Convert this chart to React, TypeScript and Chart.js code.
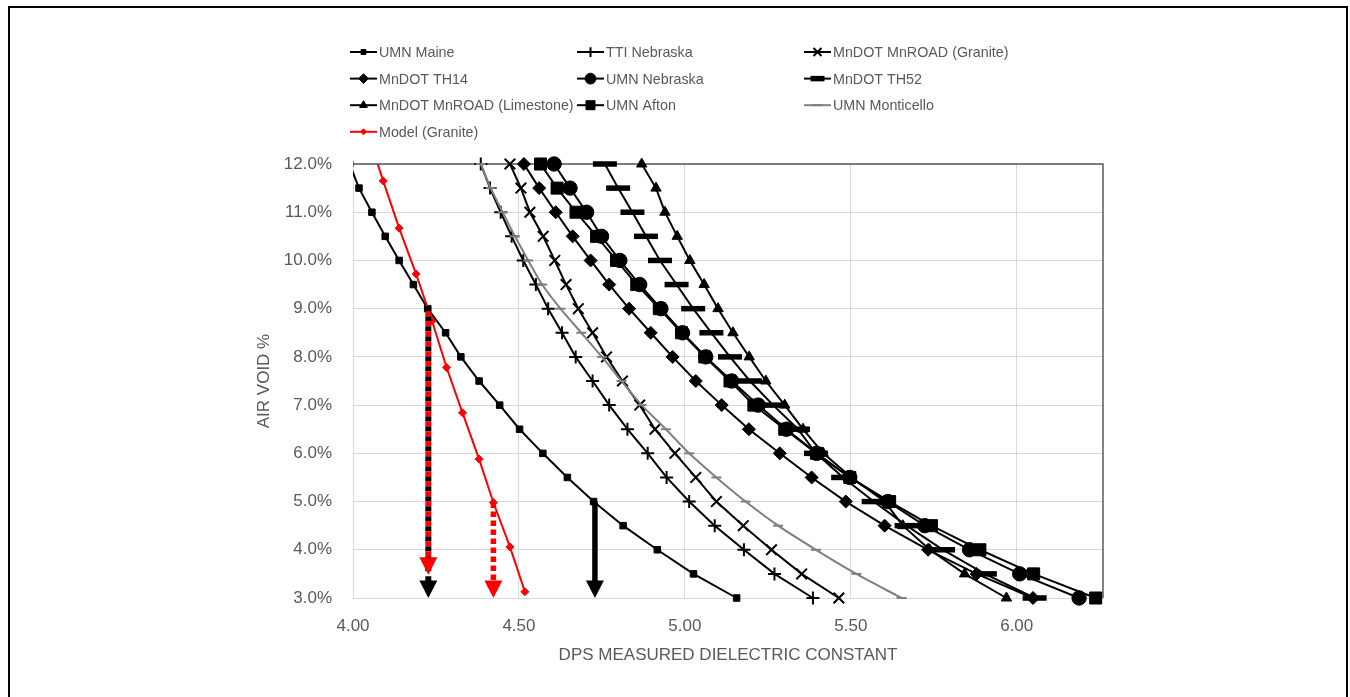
import React, { useEffect, useRef } from 'react';
import { Chart, registerables } from 'chart.js';
import { drawPoint } from 'chart.js/helpers';

Chart.register(...registerables);

// ---------- DATA ----------
const SERIES_NAMES = [
  'UMN Maine',
  'TTI Nebraska',
  'MnDOT MnROAD (Granite)',
  'MnDOT TH14',
  'UMN Nebraska',
  'MnDOT TH52',
  'MnDOT MnROAD (Limestone)',
  'UMN Afton',
  'UMN Monticello',
  'Model (Granite)',
];

// Air void levels (%) shared by the measured series
const AIR_VOID = [12.0, 11.5, 11.0, 10.5, 10.0, 9.5, 9.0, 8.5, 8.0, 7.5, 7.0, 6.5, 6.0, 5.5, 5.0, 4.5, 4.0, 3.5, 3.0];

// Dielectric constants per series
const UMN_MAINE = [3.99, 4.018, 4.057, 4.097, 4.139, 4.182, 4.225, 4.279, 4.325, 4.380, 4.442, 4.502, 4.572, 4.646, 4.725, 4.814, 4.917, 5.026, 5.156];
const TTI_NEBRASKA = [4.385, 4.413, 4.445, 4.478, 4.513, 4.551, 4.588, 4.630, 4.671, 4.722, 4.772, 4.827, 4.888, 4.945, 5.013, 5.090, 5.178, 5.270, 5.386];
const MNROAD_GRANITE = [4.473, 4.506, 4.533, 4.573, 4.608, 4.642, 4.679, 4.722, 4.764, 4.812, 4.864, 4.910, 4.970, 5.033, 5.095, 5.176, 5.261, 5.352, 5.464];
const MNDOT_TH14 = [4.515, 4.561, 4.611, 4.662, 4.716, 4.772, 4.832, 4.897, 4.963, 5.033, 5.111, 5.193, 5.286, 5.382, 5.485, 5.602, 5.733, 5.879, 6.049];
const UMN_NEBRASKA = [4.606, 4.654, 4.704, 4.749, 4.804, 4.864, 4.928, 4.993, 5.063, 5.141, 5.221, 5.306, 5.397, 5.497, 5.612, 5.723, 5.858, 6.009, 6.188];
const MNDOT_TH52 = [4.759, 4.799, 4.842, 4.883, 4.925, 4.975, 5.025, 5.080, 5.136, 5.196, 5.266, 5.341, 5.395, 5.477, 5.569, 5.668, 5.778, 5.904, 6.054];
const MNROAD_LIMESTONE = [4.870, 4.913, 4.940, 4.977, 5.015, 5.058, 5.100, 5.145, 5.194, 5.244, 5.301, 5.356, 5.417, 5.502, 5.602, 5.657, 5.738, 5.843, 5.969];
const UMN_AFTON = [4.565, 4.615, 4.672, 4.734, 4.794, 4.855, 4.923, 4.990, 5.060, 5.136, 5.208, 5.301, 5.397, 5.497, 5.617, 5.743, 5.889, 6.051, 6.238];
const UMN_MONTICELLO = [4.385, 4.415, 4.451, 4.488, 4.528, 4.570, 4.625, 4.688, 4.750, 4.809, 4.870, 4.943, 5.013, 5.095, 5.183, 5.281, 5.395, 5.517, 5.653];

// Model (Granite) has its own air void levels
const MODEL_X = [4.045, 4.091, 4.139, 4.190, 4.238, 4.282, 4.330, 4.380, 4.423, 4.473, 4.518];
const MODEL_Y = [12.62, 11.65, 10.67, 9.72, 8.75, 7.78, 6.84, 5.88, 4.98, 4.06, 3.13];

// Annotation arrows (dielectric x, air void top, air void tip)
const ARROW_X = [4.227, 4.227, 4.423, 4.729];
const ARROW_TOP = [9.05, 9.05, 4.98, 5.0];
const ARROW_TIP = [3.0, 3.48, 3.0, 3.0];

// Axis ranges / ticks
const X_MIN = 4.0;
const X_MAX = 6.26;
const X_STEP = 0.5;
const Y_MIN = 3.0;
const Y_MAX = 12.0;
const Y_STEP = 1.0;
const X_TITLE = 'DPS MEASURED DIELECTRIC CONSTANT';
const Y_TITLE = 'AIR VOID %';

// ---------- STYLES ----------
const TEXT_COLOR = '#595959';
const FONT_FAMILY = '"Liberation Sans", Arial, sans-serif';

const SERIES_STYLE = [
  { color: '#000000', pointStyle: 'rect', radius: 4.6, pbw: 1, lw: 2 },
  { color: '#000000', pointStyle: 'cross', radius: 6.5, pbw: 2, lw: 2 },
  { color: '#000000', pointStyle: 'crossRot', radius: 7.5, pbw: 2, lw: 2 },
  { color: '#000000', pointStyle: 'rectRot', radius: 6.5, pbw: 1, lw: 2 },
  { color: '#000000', pointStyle: 'circle', radius: 7.2, pbw: 1, lw: 2 },
  { color: '#000000', pointStyle: 'line', radius: 12, pbw: 5.5, lw: 2 },
  { color: '#000000', pointStyle: 'triangle', radius: 6, pbw: 1, lw: 2 },
  { color: '#000000', pointStyle: 'rect', radius: 8.5, pbw: 1, lw: 2 },
  { color: '#7f7f7f', pointStyle: 'line', radius: 5, pbw: 2, lw: 2 },
  { color: '#ff0000', pointStyle: 'rectRot', radius: 4, pbw: 1, lw: 2 },
];

// per-series clipping: Maine runs off the left edge, Model off the top edge
const SERIES_CLIP = [
  { left: 0, top: 12, right: 12, bottom: 12 },
  12, 12, 12, 12, 12, 12, 12, 12,
  { left: 12, top: 0, right: 12, bottom: 12 },
];

const ARROW_STYLE = [
  { color: '#000000', width: 6, dash: [5, 5], offset: 0 },
  { color: '#ff0000', width: 6, dash: [5, 5], offset: 5 },
  { color: '#ff0000', width: 5.5, dash: [5.5, 3.5], offset: 0 },
  { color: '#000000', width: 5.5, dash: [], offset: 0 },
];

const SERIES_X = [
  UMN_MAINE, TTI_NEBRASKA, MNROAD_GRANITE, MNDOT_TH14, UMN_NEBRASKA,
  MNDOT_TH52, MNROAD_LIMESTONE, UMN_AFTON, UMN_MONTICELLO,
];

const overlayPlugin = {
  id: 'overlay',
  beforeDatasetsDraw(chart: any) {
    const { ctx, chartArea: a } = chart;
    ctx.save();
    ctx.strokeStyle = '#595959';
    ctx.lineWidth = 1.5;
    ctx.beginPath();
    ctx.moveTo(a.left, a.top);
    ctx.lineTo(a.right, a.top);
    ctx.lineTo(a.right, a.bottom);
    ctx.stroke();
    ctx.restore();
  },
  afterDatasetsDraw(chart: any) {
    const { ctx } = chart;
    const xs = chart.scales.x;
    const ys = chart.scales.y;
    const headW = 18;
    const headH = 17.5;
    ARROW_X.forEach((xv, i) => {
      const st = ARROW_STYLE[i];
      const x = xs.getPixelForValue(xv);
      const yTop = ys.getPixelForValue(ARROW_TOP[i]);
      const yTip = ys.getPixelForValue(ARROW_TIP[i]);
      ctx.save();
      ctx.strokeStyle = st.color;
      ctx.fillStyle = st.color;
      ctx.lineWidth = st.width;
      ctx.lineCap = 'butt';
      ctx.setLineDash(st.dash);
      ctx.lineDashOffset = st.offset;
      ctx.beginPath();
      ctx.moveTo(x, yTop);
      ctx.lineTo(x, yTip - headH + 1);
      ctx.stroke();
      ctx.setLineDash([]);
      ctx.beginPath();
      ctx.moveTo(x - headW / 2, yTip - headH);
      ctx.lineTo(x + headW / 2, yTip - headH);
      ctx.lineTo(x, yTip);
      ctx.closePath();
      ctx.fill();
      ctx.restore();
    });
  },
  afterDraw(chart: any) {
    const { ctx } = chart;
    const colX = [350, 577, 804];
    const rowY0 = 52;
    const rowDY = 26.6;
    chart.data.datasets.forEach((ds: any, i: number) => {
      const col = i % 3;
      const row = Math.floor(i / 3);
      const x0 = colX[col];
      const y = rowY0 + row * rowDY;
      const st = SERIES_STYLE[i];
      ctx.save();
      ctx.strokeStyle = st.color;
      ctx.fillStyle = st.color;
      ctx.lineWidth = st.lw;
      ctx.beginPath();
      ctx.moveTo(x0, y);
      ctx.lineTo(x0 + 27, y);
      ctx.stroke();
      ctx.lineWidth = st.pbw;
      const r = st.pointStyle === 'line' ? Math.min(st.radius, 7) : st.radius * 0.75;
      drawPoint(ctx, { pointStyle: st.pointStyle, rotation: 0, radius: r, borderWidth: Math.min(st.pbw, 4) }, x0 + 13.5, y);
      ctx.fillStyle = TEXT_COLOR;
      ctx.font = `14.3px ${FONT_FAMILY}`;
      ctx.textBaseline = 'middle';
      ctx.textAlign = 'left';
      ctx.fillText(ds.label, x0 + 29, y + 1);
      ctx.restore();
    });
  },
};

export default function App() {
  const canvasRef = useRef<HTMLCanvasElement | null>(null);

  useEffect(() => {
    const canvas = canvasRef.current;
    if (!canvas) return;

    const datasets: any[] = SERIES_X.map((xsArr, i) => {
      const st = SERIES_STYLE[i];
      return {
        label: SERIES_NAMES[i],
        data: xsArr.map((xv, k) => ({ x: xv, y: AIR_VOID[k] })),
        borderColor: st.color,
        backgroundColor: st.color,
        pointBackgroundColor: st.color,
        pointBorderColor: st.color,
        pointStyle: st.pointStyle,
        pointRadius: st.radius,
        pointBorderWidth: st.pbw,
        borderWidth: st.lw,
        tension: i === 8 ? 0.3 : 0,
        clip: SERIES_CLIP[i],
        order: -i,
      };
    });
    const mst = SERIES_STYLE[9];
    datasets.push({
      label: SERIES_NAMES[9],
      data: MODEL_X.map((xv, k) => ({ x: xv, y: MODEL_Y[k] })),
      borderColor: mst.color,
      backgroundColor: mst.color,
      pointBackgroundColor: mst.color,
      pointBorderColor: mst.color,
      pointStyle: mst.pointStyle,
      pointRadius: mst.radius,
      pointBorderWidth: mst.pbw,
      borderWidth: mst.lw,
      tension: 0,
      clip: SERIES_CLIP[9],
      order: -9,
    });

    const chart = new Chart(canvas, {
      type: 'line',
      data: { datasets },
      plugins: [overlayPlugin],
      options: {
        animation: false,
        responsive: false,
        devicePixelRatio: 1,
        layout: { padding: { left: 253, top: 164, right: 247, bottom: 29 } },
        plugins: {
          legend: { display: false },
          tooltip: { enabled: false },
        },
        scales: {
          x: {
            type: 'linear',
            min: X_MIN,
            max: X_MAX,
            afterFit: (s: any) => { s.height = 70; },
            ticks: {
              stepSize: X_STEP,
              includeBounds: false,
              padding: 18,
              color: TEXT_COLOR,
              font: { family: FONT_FAMILY, size: 17 },
              callback: (v: any) => Number(v).toFixed(2),
            },
            grid: { color: '#d9d9d9', lineWidth: 1, drawTicks: false },
            border: { color: '#d9d9d9', width: 1 },
            title: {
              display: true,
              text: X_TITLE,
              color: TEXT_COLOR,
              font: { family: FONT_FAMILY, size: 17 },
              padding: { top: 0, bottom: 2 },
            },
          },
          y: {
            type: 'linear',
            min: Y_MIN,
            max: Y_MAX,
            afterFit: (s: any) => { s.width = 100; },
            ticks: {
              stepSize: Y_STEP,
              padding: 21,
              color: TEXT_COLOR,
              font: { family: FONT_FAMILY, size: 17 },
              callback: (v: any) => Number(v).toFixed(1) + '%',
            },
            grid: { color: '#d9d9d9', lineWidth: 1, drawTicks: false },
            border: { color: '#d9d9d9', width: 1 },
            title: {
              display: true,
              text: Y_TITLE,
              color: TEXT_COLOR,
              font: { family: FONT_FAMILY, size: 17 },
              padding: { top: 1, bottom: 0 },
            },
          },
        },
      },
    } as any);

    return () => chart.destroy();
  }, []);

  return (
    <div>
      <div
        style={{
          position: 'fixed',
          left: 8,
          top: 6,
          width: 1340,
          height: 691,
          boxSizing: 'border-box',
          borderTop: '2px solid #000',
          borderLeft: '2px solid #000',
          borderRight: '2.5px solid #000',
          background: '#fff',
        }}
      />
      <div style={{ position: 'fixed', left: 0, top: 0, width: 1350, height: 697 }}>
        <canvas ref={canvasRef} width={1350} height={697} style={{ width: 1350, height: 697, display: 'block' }} />
      </div>
    </div>
  );
}
